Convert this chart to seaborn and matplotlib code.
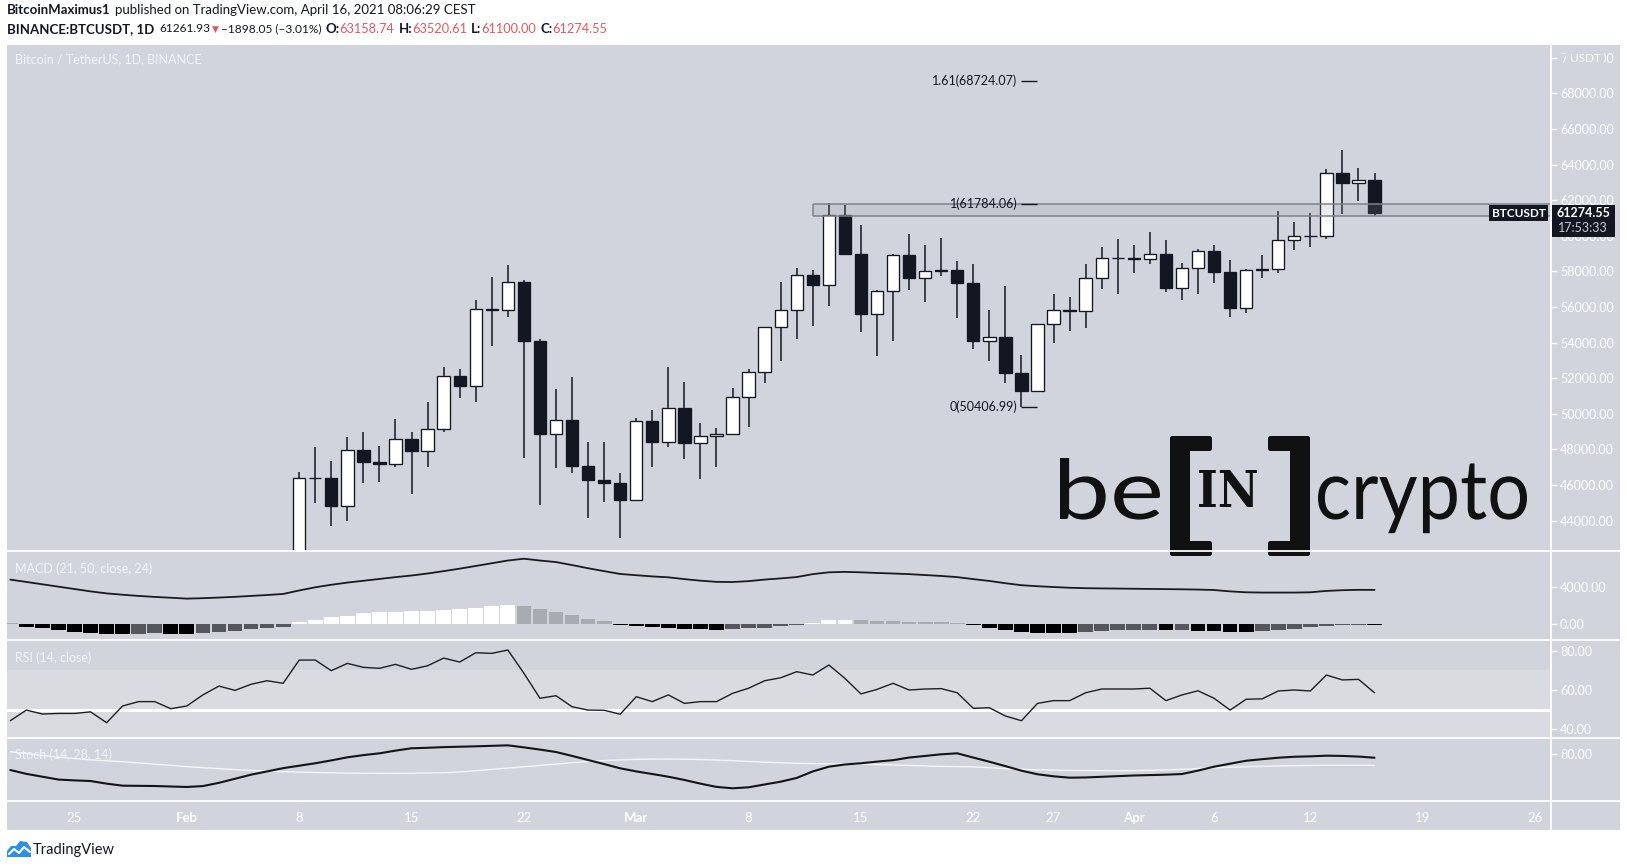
import numpy as np
import pandas as pd
import matplotlib
matplotlib.use("Agg")
import matplotlib.pyplot as plt
from matplotlib.patches import Rectangle, Polygon, PathPatch, FancyBboxPatch
from matplotlib.ticker import FuncFormatter
from matplotlib.textpath import TextPath
from matplotlib.font_manager import FontProperties
from matplotlib.transforms import Affine2D
import seaborn as sns

# ---------------- data ----------------
candle_start = "2021-02-08"
opens = [38886, 46374, 46420, 44807, 47969, 47288, 47153, 48577, 47911, 49134, 52119, 51552, 55906, 55842,
         57413, 54087, 48891, 49676, 47073, 46277, 46104,
         45134, 49595, 48436, 50349, 48374, 48746, 48882, 50959, 52375, 54874, 55851, 57773, 57222, 61188,
         58976, 55605, 56900, 58913, 57641, 58030, 58100, 57351, 54083, 54342, 52303, 51293, 55025, 55817,
         55782, 57628, 58731,
         58736, 58720, 58951, 57052, 58202, 59129, 57991, 55953, 58077, 58142, 59769, 59993, 59965, 63503,
         62963, 63158.74]
highs = [46750, 48150, 47370, 48680, 48990, 48190, 49710, 48950, 50690, 52620, 52500, 56368, 57670, 58352,
         57534, 54183, 51374, 52041, 48418, 48418, 46657,
         49790, 50215, 52646, 51790, 49466, 49186, 51430, 52500, 54895, 57400, 58170, 58080, 61844, 61724,
         60607, 56938, 58982, 60100, 59488, 59860, 58589, 58393, 55831, 57180, 53303, 55073, 56730, 56540,
         58413, 59390, 59820,
         59488, 60230, 59764, 58455, 59251, 59466, 58640, 58153, 58920, 61400, 60775, 61300, 63736, 64820,
         63790, 63520.61]
lows = [37988, 44980, 43700, 43994, 46130, 46190, 47000, 45500, 47000, 48990, 50900, 50680, 53810, 55455,
        47500, 44892, 46972, 46657, 44140, 45029, 43016,
        45115, 47030, 48117, 47480, 46320, 47030, 48882, 49274, 51750, 52966, 54185, 54930, 56078, 58966,
        54568, 53247, 54110, 56955, 56253, 57740, 55400, 53624, 52983, 51713, 50407, 51229, 54000, 54670,
        54800, 57030, 56750,
        57893, 58400, 56860, 56400, 56730, 57370, 55455, 55680, 57612, 57893, 59203, 59354, 59800, 61250,
        61980, 61100.00]
closes = [46374, 46420, 44807, 47969, 47287, 47153, 48577, 47911, 49133, 52119, 51552, 55906, 55842, 57408,
          54087, 48891, 49676, 47073, 46276, 46106, 45135,
          49587, 48440, 50349, 48374, 48751, 48882, 50971, 52375, 54884, 55851, 57773, 57221, 61188, 58968,
          55605, 56900, 58912, 57648, 58030, 58102, 57351, 54083, 54340, 52303, 51293, 55025, 55817, 55777,
          57628, 58730, 58735,
          58720, 58950, 57051, 58202, 59129, 57991, 55953, 58077, 58142, 59769, 59994, 59965, 63503, 62963,
          63159, 61274.55]

indicator_start = "2021-01-21"
macd_line = [4844, 4590, 4330, 4070, 3810, 3550, 3330, 3180, 3050, 2940, 2850,
             2752, 2800, 2870, 2950, 3050, 3150, 3266, 3650, 4000, 4280, 4520, 4720, 4920, 5120, 5300, 5520,
             5780, 6055, 6350, 6650, 6950, 7150, 6950, 6780, 6450, 6100, 5780, 5470,
             5330, 5200, 5100, 4900, 4730, 4600, 4580, 4680, 4850, 4980, 5130, 5450, 5650, 5700, 5650, 5580,
             5520, 5450, 5350, 5250, 5120, 4900, 4700, 4450, 4230, 4120, 4030, 3950, 3900, 3880, 3860,
             3840, 3820, 3800, 3780, 3750, 3700, 3550, 3450, 3420, 3420, 3420, 3450, 3600, 3680, 3720, 3714]
macd_hist = [40, -367, -514, -734, -880, -1027, -1174, -1200, -1100, -1027, -1174,
             -1200, -1027, -880, -807, -587, -514, -367, 147, 440, 697, 880, 1137, 1284, 1330, 1360, 1390,
             1541, 1578, 1761, 1981, 2092, 1981, 1651, 1321, 991, 550, 257, -147,
             -220, -367, -440, -587, -600, -734, -587, -514, -440, -294, -120, 100, 350, 420, 350, 260,
             240, 200, 170, 130, 40, -200, -450, -750, -950, -1000, -1020, -1040, -900, -820, -740,
             -720, -650, -760, -740, -800, -850, -950, -980, -820, -720, -560, -420, -260, -160, -100, -140]
rsi_values = [44.4, 49.8, 47.8, 48.1, 48.1, 48.9, 43.4, 51.9, 54.1, 54.1, 50.5,
              51.9, 57.5, 62.0, 59.8, 62.9, 64.7, 63.4, 75.2, 75.2, 69.8, 73.5, 71.5, 71.0, 73.0, 70.5, 72.3,
              76.2, 74.2, 78.9, 78.6, 80.3, 68.5, 55.8, 57.1, 51.5, 49.8, 49.7, 47.7,
              56.6, 54.1, 57.5, 53.2, 54.1, 54.1, 58.3, 60.9, 64.7, 66.2, 69.3, 67.6, 72.7, 65.9, 58.0, 60.3,
              63.4, 60.0, 60.5, 60.7, 58.6, 50.7, 51.0, 46.8, 44.4, 53.2, 54.6, 54.6, 58.6, 60.5, 60.5,
              60.5, 60.9, 54.6, 57.5, 59.6, 55.8, 49.8, 55.3, 55.5, 59.5, 60.0, 59.5, 67.6, 65.1, 65.4, 58.6]
stoch_k = [60.7, 56, 52.5, 49, 48, 47.2, 44, 41.5, 41.3, 41.1, 40.5,
           39.9, 41, 45, 50, 55, 59, 63, 66, 69, 72.5, 76.3, 79, 81.2, 84.5, 87.4, 88,
           88.8, 89.3, 89.8, 90.4, 91, 88.5, 85.8, 82.8, 78, 73, 68, 62.8,
           59, 55.8, 52.5, 48.5, 44, 40, 38.3, 39.5, 43, 46.4, 51, 59, 64.8, 67.5, 69, 71,
           72.8, 76, 78, 80, 81.2, 76, 70.9, 65.5, 59.9, 55.5, 53, 51.3, 51.6, 52.4, 53.2,
           54, 54.5, 55, 55.8, 60, 64.8, 68.5, 72.1, 74, 75.8, 77, 77.5, 78.3, 78, 77.2, 75.8]
stoch_d = [83.2, 81, 78.5, 76.5, 74.8, 73.2, 72, 70.9, 69.4, 67.9, 66.4,
           64.9, 63.6, 62.4, 61.2, 60.2, 59.4, 58.7, 58.2, 57.7, 57.3, 57, 56.7, 56.6, 56.6, 56.8, 57.1,
           57.4, 58.3, 59.8, 61.5, 63.1, 64.7, 66.3, 68, 69.6, 71.1, 72.3, 73.2,
           73.8, 74.1, 74.2, 74, 73.6, 73, 72.2, 71.3, 70.4, 69.6, 69, 68.6, 68.3, 68.2, 68.1, 67.5,
           66.9, 66.3, 65.7, 65.2, 64.9, 64.5, 63.5, 62.5, 61.6, 61, 60.6, 60.3, 60.1, 60, 59.9,
           60, 60.3, 60.8, 61.6, 62.5, 63.4, 64.1, 64.8, 65.3, 65.7, 66, 66.3, 66.5, 66.5, 66.5, 66.5]

fib_ratios = ["0", "1", "1.61"]
fib_prices = [50406.99, 61784.06, 68724.07]
fib_start, fib_end = "2021-03-25", "2021-03-26"
zone_start = "2021-03-12"
zone_low, zone_high = 61112.0, 61784.06

tick_dates = ["2021-01-25", "2021-02-01", "2021-02-08", "2021-02-15", "2021-02-22", "2021-03-01",
              "2021-03-08", "2021-03-15", "2021-03-22", "2021-03-27", "2021-04-01", "2021-04-06",
              "2021-04-12", "2021-04-19", "2021-04-26"]
tick_labels = ["25", "Feb", "8", "15", "22", "Mar", "8", "15", "22", "27", "Apr", "6", "12", "19", "26"]
price_ticks = list(range(44000, 70001, 2000))
macd_ticks = [0, 4000]
rsi_ticks = [40, 60, 80]
stoch_ticks = [80]

# ---------------- style ----------------
sns.set_style("white")
plt.rcParams['font.family'] = ['Lato', 'DejaVu Sans']

W, H = 1627, 867
BG = '#d1d4dc'
DARK = '#131722'
RED = '#e0585f'

fig = plt.figure(figsize=(W / 100, H / 100), dpi=100)
fig.patch.set_facecolor('white')

base = pd.Timestamp("2021-01-25")
def dnum(d):
    if isinstance(d, pd.DatetimeIndex):
        return np.asarray((d - base).days)
    return (pd.to_datetime(d) - base).days

X_LEFT, X_RIGHT = 7, 1551
PX_DAY = 16.05
X0 = 74.5  # pixel of Jan 25
xlim = ((X_LEFT - X0) / PX_DAY, (X_RIGHT - X0) / PX_DAY)

def pane(top, bottom, zorder=2):
    ax = fig.add_axes([X_LEFT / W, 1 - bottom / H, (X_RIGHT - X_LEFT) / W, (bottom - top) / H], zorder=zorder)
    ax.set_facecolor('none')
    for s in ax.spines.values():
        s.set_visible(False)
    ax.set_xlim(*xlim)
    ax.yaxis.tick_right()
    ax.tick_params(axis='y', direction='out', length=4, width=1, colors='white', labelsize=9, pad=2.5)
    ax.yaxis.set_major_formatter(FuncFormatter(lambda v, p: f"{v:.2f}"))
    ax.set_xticks([])
    return ax

# background
bg = fig.add_axes([7 / W, 1 - 830 / H, (1620 - 7) / W, (830 - 44.6) / H], zorder=0)
bg.set_facecolor(BG)
bg.set_xticks([]); bg.set_yticks([])
for s in bg.spines.values():
    s.set_visible(False)

ax_main = pane(44.6, 551)
ax_macd = pane(551, 640)
ax_rsi = pane(640, 738)
ax_sto = pane(738, 801)

# ---------------- main candles ----------------
cdates = pd.date_range(candle_start, periods=len(opens), freq="D")
cx = dnum(cdates)
o = np.array(opens, float); c = np.array(closes, float)
hi = np.array(highs, float); lo = np.array(lows, float)
up = c >= o
ax_main.vlines(cx, lo, hi, color=DARK, linewidth=1.1, zorder=2)
body_bottom = np.minimum(o, c)
body_h = np.maximum(np.abs(c - o), 1)
ax_main.bar(cx, body_h, bottom=body_bottom, width=0.77,
            color=np.where(up, 'white', DARK), edgecolor=DARK, linewidth=0.95, zorder=3)
ax_main.set_ylim(42292, 70742)
ax_main.set_yticks(price_ticks)

# zone rectangle
zx = dnum(zone_start)
ax_main.add_patch(Rectangle((zx, zone_low), 200, zone_high - zone_low, facecolor='#8f929b', alpha=0.18,
                            edgecolor='none', zorder=5))
ax_main.hlines([zone_low, zone_high], zx, xlim[1] + 5, color='#7e818a', linewidth=1.1, zorder=5)
ax_main.vlines([zx], zone_low, zone_high, color='#7e818a', linewidth=1.1, zorder=5)

# fib levels
fx0, fx1 = dnum(fib_start), dnum(fib_end)
ax_main.hlines(fib_prices, fx0, fx1, color=DARK, linewidth=1.0, zorder=6)
for r, p in zip(fib_ratios, fib_prices):
    ax_main.annotate(f"{r}({p:.2f})", xy=(fx0, p), xytext=(-4, 0), textcoords='offset pixels',
                     ha='right', va='center', fontsize=9, color=DARK, zorder=6)

# ---------------- indicators ----------------
idates = pd.date_range(indicator_start, periods=len(rsi_values), freq="D")
ix = dnum(idates)

# MACD
hist = np.array(macd_hist, float)
prev = np.concatenate([[hist[0] + 1], hist[:-1]])
cols = np.where(hist >= 0, np.where(hist > prev, '#ffffff', '#a9abb2'),
                np.where(hist < prev, '#000000', '#55575c'))
ax_macd.bar(ix, hist, width=0.92, color=cols, linewidth=0, zorder=2)
sns.lineplot(x=ix, y=macd_line, ax=ax_macd, color='#1a1a1a', linewidth=1.3, zorder=3)
ax_macd.set_ylim(-1807, 8000)
ax_macd.set_yticks(macd_ticks)
ax_macd.set_xlim(*xlim)

# RSI
ax_rsi.axhspan(30, 70, color='#d9dbe1', zorder=0.5, linewidth=0)
ax_rsi.axhline(50, color='white', linewidth=2.2, zorder=1)
sns.lineplot(x=ix, y=rsi_values, ax=ax_rsi, color='#1e1e1e', linewidth=1.0, zorder=3)
ax_rsi.set_ylim(35.63, 85.38)
ax_rsi.set_yticks(rsi_ticks)
ax_rsi.set_xlim(*xlim)

# Stoch
sns.lineplot(x=ix, y=stoch_d, ax=ax_sto, color='#f4f5f7', linewidth=1.0, zorder=2)
sns.lineplot(x=ix, y=stoch_k, ax=ax_sto, color='#141414', linewidth=1.5, zorder=3)
ax_sto.set_ylim(22.7, 100)
ax_sto.set_yticks(stoch_ticks)
ax_sto.set_xlim(*xlim)

for a in (ax_macd, ax_rsi, ax_sto):
    a.set_xlabel(''); a.set_ylabel('')
    a.yaxis.set_major_formatter(FuncFormatter(lambda v, p: f"{v:.2f}"))

# time axis
ax_sto.set_xticks([dnum(d) for d in tick_dates])
ax_sto.set_xticklabels(tick_labels)
ax_sto.tick_params(axis='x', direction='out', length=4, width=1, colors='white', labelsize=9.5, pad=4)
for lbl in ax_sto.get_xticklabels():
    if lbl.get_text() in ("Feb", "Mar", "Apr"):
        lbl.set_fontweight('bold')

# ---------------- overlay (pixel coordinates) ----------------
ov = fig.add_axes([0, 0, 1, 1], zorder=10)
ov.set_xlim(0, W); ov.set_ylim(H, 0)
ov.axis('off')
ov.patch.set_alpha(0)

# separators
for yy in (551, 640, 738, 801):
    ov.plot([7, 1620], [yy, yy], color='white', linewidth=1.3, solid_capstyle='butt')
ov.plot([1551, 1551], [44.6, 830], color='white', linewidth=1.3)

renderer = fig.canvas.get_renderer()

def rich(x, y, parts, size):
    for s, color, weight, gap, fs in parts:
        x += gap
        t = ov.text(x, y, s, color=color, fontsize=fs or size, fontweight=weight, ha='left', va='center')
        x += t.get_window_extent(renderer).width

rich(7, 10, [("BitcoinMaximus1", DARK, 'bold', 0, None),
             ("published on TradingView.com, April 16, 2021 08:06:29 CEST", DARK, 'normal', 4, None)], 9.5)
rich(7, 29, [("BINANCE:BTCUSDT, 1D", DARK, 'bold', 0, None), ("61261.93", DARK, 'normal', 5, 8.6),
             ("\u25bc", RED, 'normal', 2, 6.5), ("\u20131898.05 (\u20133.01%)", DARK, 'normal', 2, 8.6),
             ("O:", DARK, 'bold', 4, None), (f"{opens[-1]:.2f}", RED, 'normal', 0, 9.2),
             ("H:", DARK, 'bold', 4, None), (f"{highs[-1]:.2f}", RED, 'normal', 0, 9.2),
             ("L:", DARK, 'bold', 4, None), (f"{lows[-1]:.2f}", RED, 'normal', 0, 9.2),
             ("C:", DARK, 'bold', 4, None), (f"{closes[-1]:.2f}", RED, 'normal', 0, 9.2)], 9.5)

# pane titles
ov.text(15, 59, "Bitcoin / TetherUS, 1D, BINANCE", color='#f2f3f6', fontsize=9, va='center')
ov.text(15, 569, "MACD (21, 50, close, 24)", color='#f2f3f6', fontsize=9, va='center')
ov.text(15, 658, "RSI (14, close)", color='#f2f3f6', fontsize=9, va='center')
ov.text(15, 755, "Stoch (14, 28, 14)", color='#f2f3f6', fontsize=9, va='center')

# USDT tag over top price label
ov.add_patch(Rectangle((1566.5, 50), 38, 17, facecolor=BG, edgecolor='none'))
ov.text(1585.5, 58.5, "USDT", color='white', fontsize=8.5, ha='center', va='center')

# last price labels
y_last = H - ax_main.transData.transform((0, closes[-1]))[1]
ov.add_patch(Rectangle((1489, y_last - 8), 59, 16, facecolor=DARK, edgecolor='none'))
ov.text(1518.5, y_last, "BTCUSDT", color='white', fontsize=8.5, fontweight='bold', ha='center', va='center')
ov.add_patch(Rectangle((1552, y_last - 8), 63, 32, facecolor=DARK, edgecolor='none'))
ov.text(1583, y_last, f"{closes[-1]:.2f}", color='white', fontsize=9, fontweight='bold', ha='center', va='center')
ov.text(1583, y_last + 15, "17:53:33", color='#c9ccd4', fontsize=9, ha='center', va='center')

# beincrypto watermark
LOGO = '#111111'
def word(s, x0, x1, baseline, asc_px, prop):
    tp = TextPath((0, 0), s, prop=prop, size=10)
    ext = tp.get_extents()
    ref = TextPath((0, 0), "b", prop=prop, size=10).get_extents()
    sv = asc_px / ref.y1
    sh = (x1 - x0) / ext.width
    tr = Affine2D().translate(-ext.x0, 0).scale(sh, -sv).translate(x0, baseline)
    ov.add_patch(PathPatch(tr.transform_path(tp), facecolor=LOGO, edgecolor='none'))

lato = FontProperties(family='Lato')
word("be", 1060, 1160, 519, 61, lato)
word("crypto", 1318, 1527, 519, 61, lato)
for (rx, ry, rw, rh) in [(1170, 436, 20, 120), (1170, 436, 42, 15), (1170, 541, 42, 15),
                         (1290, 436, 20, 120), (1268, 436, 42, 15), (1268, 541, 42, 15)]:
    ov.add_patch(FancyBboxPatch((rx, ry), rw, rh, boxstyle="round,pad=0,rounding_size=2.5",
                                facecolor=LOGO, edgecolor='none'))
tp = TextPath((0, 0), "IN", prop=FontProperties(family='DejaVu Serif', weight='bold'), size=10)
ext = tp.get_extents()
bx0, bx1, by0, by1 = 1199, 1257, 470, 507
tr = Affine2D().translate(-ext.x0, -ext.y0).scale((bx1 - bx0) / ext.width, -(by1 - by0) / ext.height).translate(bx0, by1)
ov.add_patch(PathPatch(tr.transform_path(tp), facecolor=LOGO, edgecolor='none'))

# TradingView footer
ov.add_patch(Polygon([(7, 857), (7, 851), (11, 846), (16, 846), (20, 841), (27, 842), (31, 848), (31, 857)],
                     closed=True, facecolor='#2f8fe8', edgecolor='none'))
ov.plot([9, 14, 19, 24, 30], [854, 849, 853, 847, 852], color='white', linewidth=1.5)
ov.text(33, 850, "TradingView", color=DARK, fontsize=10.5, va='center', ha='left')

fig.savefig("out.png", dpi=100, facecolor='white')
